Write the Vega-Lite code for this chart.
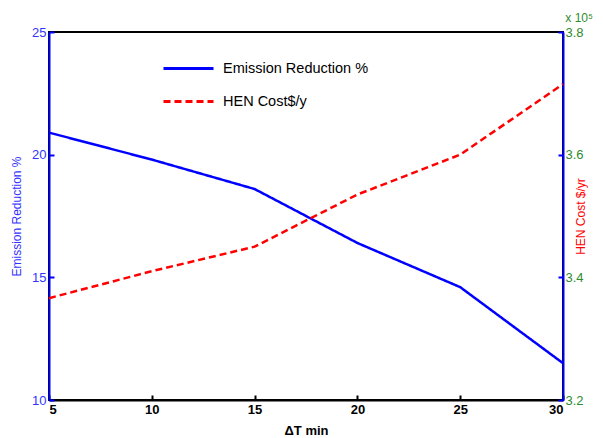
{
  "$schema": "https://vega.github.io/schema/vega-lite/v6.json",
  "width": 514,
  "height": 368,
  "autosize": "none",
  "padding": {"left": 49, "top": 32, "right": 40, "bottom": 38},
  "background": "white",
  "title": {"text": "x 10⁵", "anchor": "end", "frame": "group", "dx": 30, "offset": 1, "color": "#2e8b2e", "fontSize": 12, "fontWeight": "normal", "font": "Liberation Sans"},
  "config": {
    "view": {"stroke": "black", "strokeWidth": 2},
    "font": "Liberation Sans",
    "axis": {"grid": false, "labelFont": "Liberation Sans", "titleFont": "Liberation Sans"}
  },
  "data": {"values": [
    {"dt": 5, "series": "Emission Reduction %", "v": 20.9},
    {"dt": 10, "series": "Emission Reduction %", "v": 19.8},
    {"dt": 15, "series": "Emission Reduction %", "v": 18.6},
    {"dt": 20, "series": "Emission Reduction %", "v": 16.4},
    {"dt": 25, "series": "Emission Reduction %", "v": 14.6},
    {"dt": 30, "series": "Emission Reduction %", "v": 11.5},
    {"dt": 5, "series": "\u2003HEN Cost$/y", "v": 3.366},
    {"dt": 10, "series": "\u2003HEN Cost$/y", "v": 3.41},
    {"dt": 15, "series": "\u2003HEN Cost$/y", "v": 3.45},
    {"dt": 20, "series": "\u2003HEN Cost$/y", "v": 3.535},
    {"dt": 25, "series": "\u2003HEN Cost$/y", "v": 3.6},
    {"dt": 30, "series": "\u2003HEN Cost$/y", "v": 3.715}
  ]},
  "encoding": {
    "x": {"field": "dt", "type": "quantitative", "scale": {"domain": [5, 30], "nice": false, "zero": false},
      "axis": {"values": [5, 10, 15, 20, 25, 30], "title": "ΔT min", "domainColor": "black", "domainWidth": 2, "tickColor": "black", "tickWidth": 2, "tickSize": -5, "labelPadding": 8, "labelFontSize": 13, "labelFontWeight": "bold", "labelColor": "black", "titleFontSize": 13, "titleFontWeight": "bold", "titleColor": "black", "titlePadding": 8}},
    "color": {"field": "series", "type": "nominal", "scale": {"domain": ["Emission Reduction %", "\u2003HEN Cost$/y"], "range": ["#0000ff", "#ff0000"]},
      "legend": {"title": null, "orient": "none", "legendX": 113, "legendY": 10, "symbolType": "stroke", "symbolSize": 2500, "symbolStrokeWidth": 3, "labelFontSize": 14.5, "labelColor": "black", "labelOffset": 8, "rowPadding": -14, "labelFont": "Liberation Sans"}},
    "strokeDash": {"field": "series", "type": "nominal", "scale": {"domain": ["Emission Reduction %", "\u2003HEN Cost$/y"], "range": [[1, 0], [7, 4]]}, "legend": null}
  },
  "layer": [
    {
      "transform": [{"filter": "datum.series === 'Emission Reduction %'"}],
      "mark": {"type": "line", "strokeWidth": 2.5},
      "encoding": {
        "y": {"field": "v", "type": "quantitative", "scale": {"domain": [10, 25], "nice": false, "zero": false},
          "axis": {"orient": "left", "values": [10, 15, 20, 25], "title": "Emission Reduction %", "domainColor": "#0000ff", "domainWidth": 2, "tickColor": "#0000ff", "tickWidth": 2, "tickSize": -5, "labelPadding": 8, "labelFontSize": 13, "labelColor": "#3333ff", "titleColor": "#3333ff", "titleFontSize": 12, "titleFontWeight": "normal", "titlePadding": 8}}
      }
    },
    {
      "transform": [{"filter": "datum.series !== 'Emission Reduction %'"}],
      "mark": {"type": "line", "strokeWidth": 2.5},
      "encoding": {
        "y": {"field": "v", "type": "quantitative", "scale": {"domain": [3.2, 3.8], "nice": false, "zero": false},
          "axis": {"orient": "right", "values": [3.2, 3.4, 3.6, 3.8], "format": ".1f", "title": "HEN Cost $/yr", "titleAngle": 270, "domainColor": "#0000ff", "domainWidth": 2, "tickColor": "#0000ff", "tickWidth": 2, "tickSize": -5, "labelPadding": 7, "labelFontSize": 13, "labelColor": "#2e8b2e", "titleColor": "#ff0000", "titleFontSize": 12, "titleFontWeight": "normal", "titlePadding": 4}}
      }
    }
  ],
  "resolve": {"scale": {"y": "independent"}}
}
